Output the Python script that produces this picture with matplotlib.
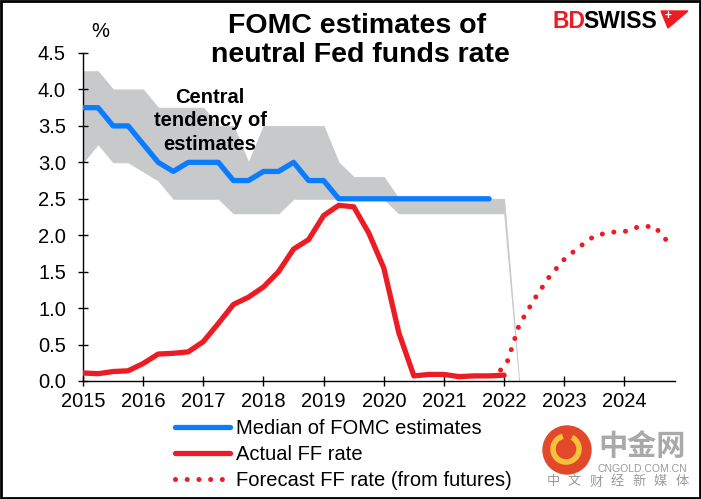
import matplotlib
matplotlib.use("Agg")
import matplotlib.pyplot as plt
from matplotlib.patches import Rectangle, Polygon, Ellipse, Arc

# quarterly FOMC SEP rounds, Mar 2015 onwards
quarters = [2015 + i / 4 for i in range(30)]

median_est = [3.75, 3.75, 3.5, 3.5, 3.25, 3.0, 2.875, 3.0, 3.0, 3.0,
              2.75, 2.75, 2.875, 2.875, 3.0, 2.75, 2.75, 2.5, 2.5, 2.5,
              2.5, 2.5, 2.5, 2.5, 2.5, 2.5, 2.5, 2.5]

band_upper = [4.25, 4.25, 4.0, 4.0, 4.0, 3.75, 3.75, 3.75, 3.75, 3.5,
              3.5, 3.0, 3.5, 3.5, 3.5, 3.5, 3.5, 3.0, 2.8, 2.8,
              2.8, 2.5, 2.5, 2.5, 2.5, 2.5, 2.5, 2.5, 2.5, 0.0]
band_lower = [3.0, 3.25, 3.0, 3.0, 2.875, 2.75, 2.5, 2.5, 2.5, 2.5,
              2.3, 2.3, 2.3, 2.3, 2.5, 2.5, 2.5, 2.5, 2.5, 2.5,
              2.5, 2.3, 2.3, 2.3, 2.3, 2.3, 2.3, 2.3, 2.3, 0.0]

actual_ff = [0.11, 0.10, 0.13, 0.14, 0.24, 0.37, 0.38, 0.40, 0.54, 0.79,
             1.05, 1.15, 1.29, 1.50, 1.81, 1.94, 2.27, 2.41, 2.39, 2.03,
             1.55, 0.66, 0.07, 0.09, 0.09, 0.06, 0.07, 0.07, 0.08]

fc_dates = [2021.94, 2022.06, 2022.25, 2022.5, 2022.75, 2023.0, 2023.25,
            2023.5, 2023.75, 2024.0, 2024.25, 2024.5, 2024.75]
fc_rate = [0.15, 0.28, 0.77, 1.12, 1.43, 1.67, 1.84, 1.99, 2.04, 2.05,
           2.12, 2.12, 1.88]

years = list(range(2015, 2025))
yticks = [0.0, 0.5, 1.0, 1.5, 2.0, 2.5, 3.0, 3.5, 4.0, 4.5]

BLUE = "#0A7CFF"
RED = "#ED1C24"
GREY = "#C8C9CA"
W, H = 701, 499


def fx(px):
    return px / W


def fy(py):
    return 1 - py / H


plt.rcParams["font.family"] = ["Liberation Sans", "DejaVu Sans"]
fig = plt.figure(figsize=(7.01, 4.99), dpi=100)
ax = fig.add_axes([fx(83), fy(381), (675 - 83) / W, (381 - 53) / H])

ax.fill_between(quarters, band_lower, band_upper, color=GREY, lw=0.6,
                edgecolor=GREY, zorder=1)
ax.plot(quarters[:len(median_est)], median_est, color=BLUE, lw=3.8,
        solid_capstyle="round", solid_joinstyle="round", zorder=3,
        label="Median of FOMC estimates")
ax.plot(quarters[:len(actual_ff)], actual_ff, color=RED, lw=3.8,
        solid_capstyle="round", solid_joinstyle="round", zorder=3,
        label="Actual FF rate")
ax.plot(fc_dates, fc_rate, color=RED, lw=3.6, linestyle=(0, (0.01, 2.33)),
        dash_capstyle="round", zorder=3, label="Forecast FF rate (from futures)")

ax.set_xlim(2015, 2024.84)
ax.set_ylim(0, 4.5)
ax.set_xticks(years)
ax.set_xticklabels([str(y) for y in years])
ax.set_yticks(yticks)
ax.set_yticklabels([f"{v:.1f}" for v in yticks])
for s in ["top", "right"]:
    ax.spines[s].set_visible(False)
for s in ["left", "bottom"]:
    ax.spines[s].set_linewidth(1.0)
ax.tick_params(axis="both", direction="inout", length=7.5, width=1.0,
               labelsize=14.5)
ax.tick_params(axis="y", pad=8.5)
ax.tick_params(axis="x", pad=4.5)

leg = ax.legend(loc="upper left", bbox_to_anchor=(fx(175), fy(419)),
                bbox_transform=fig.transFigure, frameon=False, fontsize=14.5,
                handlelength=2.75, handletextpad=0.3, borderpad=0,
                borderaxespad=0, labelspacing=0.34)

# titles and notes
fig.text(fx(357), fy(33), "FOMC estimates of", ha="center", va="baseline",
         fontsize=20.5, fontweight="bold")
fig.text(fx(360), fy(62), "neutral Fed funds rate", ha="center", va="baseline",
         fontsize=20.5, fontweight="bold")
fig.text(fx(100), fy(37), "%", ha="center", va="baseline", fontsize=14.5)
for txt, base in [("Central", 103), ("tendency of", 126.5), ("estimates", 150)]:
    fig.text(fx(210), fy(base), txt, ha="center", va="baseline",
             fontsize=14.5, fontweight="bold")

# BDSWISS logo
renderer = fig.canvas.get_renderer()
bd = fig.text(fx(552), fy(28), "BD", color=RED, fontsize=16.5,
              fontweight="bold", va="baseline")
bd_right = bd.get_window_extent(renderer).x1 - 2
fig.text(bd_right / W, fy(28), "SWISS", color="black", fontsize=16.5,
         fontweight="bold", va="baseline")
fig.add_artist(Polygon([(fx(661), fy(11)), (fx(688), fy(11)), (fx(668), fy(28))],
                       closed=True, color=RED, transform=fig.transFigure))
fig.text(fx(668), fy(16.5), "+", color="white", fontsize=8.5, fontweight="bold",
         ha="center", va="center")

# cngold watermark
fig.add_artist(Ellipse((fx(567), fy(450)), 48 / W, 48 / H, color="#E2482A",
                       transform=fig.transFigure))
fig.add_artist(Arc((fx(566), fy(449)), 26 / W, 26 / H, theta1=100, theta2=430,
                   color="#F7C23A", lw=4, transform=fig.transFigure))
fig.text(fx(642), fy(446), "中金网", color="#A9A9A9", fontsize=21,
         fontweight="bold", ha="center", va="center",
         family=["Noto Sans CJK SC", "DejaVu Sans"])
fig.text(fx(642), fy(469), "CNGOLD.COM.CN", color="#9A9A9A", fontsize=7.5,
         ha="center", va="center")
for k, ch in enumerate("中文财经新媒体"):
    fig.text(fx(553 + k * 21.5), fy(482), ch, color="#9A9A9A", fontsize=9.5,
             ha="center", va="center", family=["Noto Sans CJK SC", "DejaVu Sans"])

# outer frame
fig.add_artist(Rectangle((0.0015, 0.002), 0.997, 0.996, fill=False,
                         edgecolor="black", lw=2, transform=fig.transFigure))

fig.savefig("out.png", dpi=100)
